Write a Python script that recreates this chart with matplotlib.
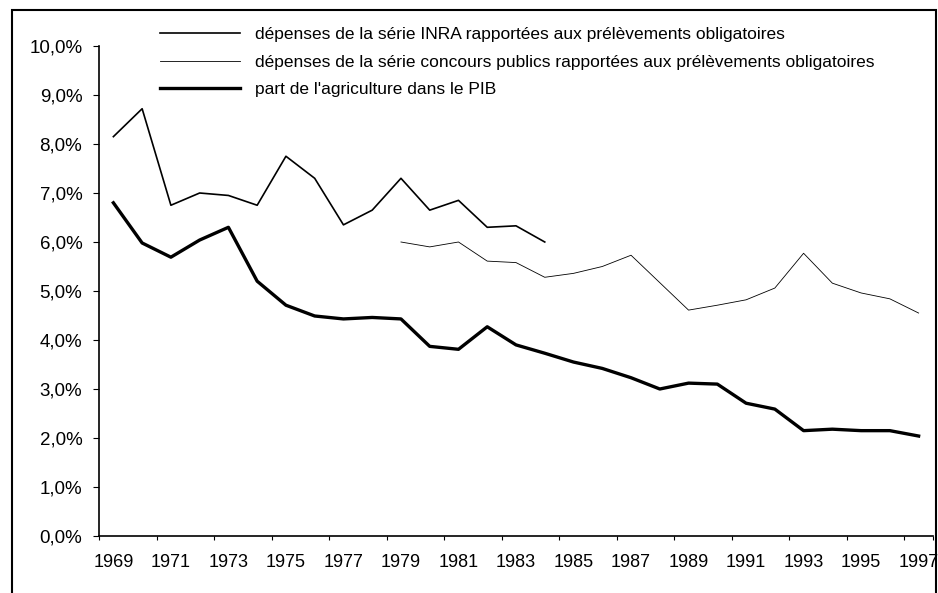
import matplotlib
matplotlib.use("Agg")
import matplotlib.pyplot as plt
import matplotlib.patches as mpatches
from matplotlib.ticker import FuncFormatter, FixedLocator

plt.rcParams["font.family"] = ["Liberation Sans", "DejaVu Sans"]

# --- data ---
years = list(range(1969, 1998))

inra_years = list(range(1969, 1985))
inra = [8.15, 8.72, 6.75, 7.0, 6.95, 6.75, 7.75, 7.3, 6.35, 6.65,
        7.3, 6.65, 6.85, 6.3, 6.33, 6.0]

concours_years = list(range(1979, 1998))
concours = [6.0, 5.9, 6.0, 5.61, 5.58, 5.28, 5.36, 5.5, 5.73, 5.17,
            4.61, 4.71, 4.82, 5.06, 5.77, 5.16, 4.96, 4.84, 4.55]

pib = [6.8, 5.98, 5.69, 6.04, 6.3, 5.2, 4.71, 4.49, 4.43, 4.46,
       4.43, 3.87, 3.81, 4.27, 3.9, 3.73, 3.55, 3.42, 3.23, 3.0,
       3.12, 3.1, 2.71, 2.59, 2.15, 2.18, 2.15, 2.15, 2.04]

labels = [
    "dépenses de la série INRA rapportées aux prélèvements obligatoires",
    "dépenses de la série concours publics rapportées aux prélèvements obligatoires",
    "part de l'agriculture dans le PIB",
]

fig = plt.figure(figsize=(9.38, 5.93), dpi=100)
ax = fig.add_axes([99 / 938, 1 - 536 / 593, (933 - 99) / 938, (536 - 46) / 593])

# outer frame around the whole chart
fig.patches.append(mpatches.Rectangle(
    (12 / 938, -0.05), (936 - 12) / 938, 1.05 - 10 / 593,
    transform=fig.transFigure, fill=False, edgecolor="black",
    linewidth=1.5, figure=fig))

ax.plot(inra_years, inra, color="black", linewidth=1.2, label=labels[0])
ax.plot(concours_years, concours, color="black", linewidth=0.6, label=labels[1])
ax.plot(years, pib, color="black", linewidth=2.4, label=labels[2])

ax.set_xlim(1968.5, 1997.5)
ax.set_ylim(0, 10)
ax.set_yticks([i for i in range(11)])
ax.yaxis.set_major_formatter(FuncFormatter(lambda v, p: f"{v:.1f}%".replace(".", ",")))
ax.set_xticks(years[::2])
ax.xaxis.set_minor_locator(FixedLocator([y - 0.5 for y in years[::2]] + [1997.5]))
ax.tick_params(axis="x", which="major", length=0, pad=13, labelsize=13)
ax.tick_params(axis="x", which="minor", length=3, width=0.8)
ax.tick_params(axis="y", length=4, width=0.8, pad=8, labelsize=13.5)

for s in ("top", "right"):
    ax.spines[s].set_visible(False)
for s in ("left", "bottom"):
    ax.spines[s].set_linewidth(1.2)

ax.legend(loc="upper left", bbox_to_anchor=(160 / 938, 1 - 27 / 593),
          bbox_transform=fig.transFigure, frameon=False, fontsize=12.5,
          handlelength=4.6, handletextpad=0.9, labelspacing=0.72,
          borderpad=0, borderaxespad=0)

fig.savefig("out.png", dpi=100)
